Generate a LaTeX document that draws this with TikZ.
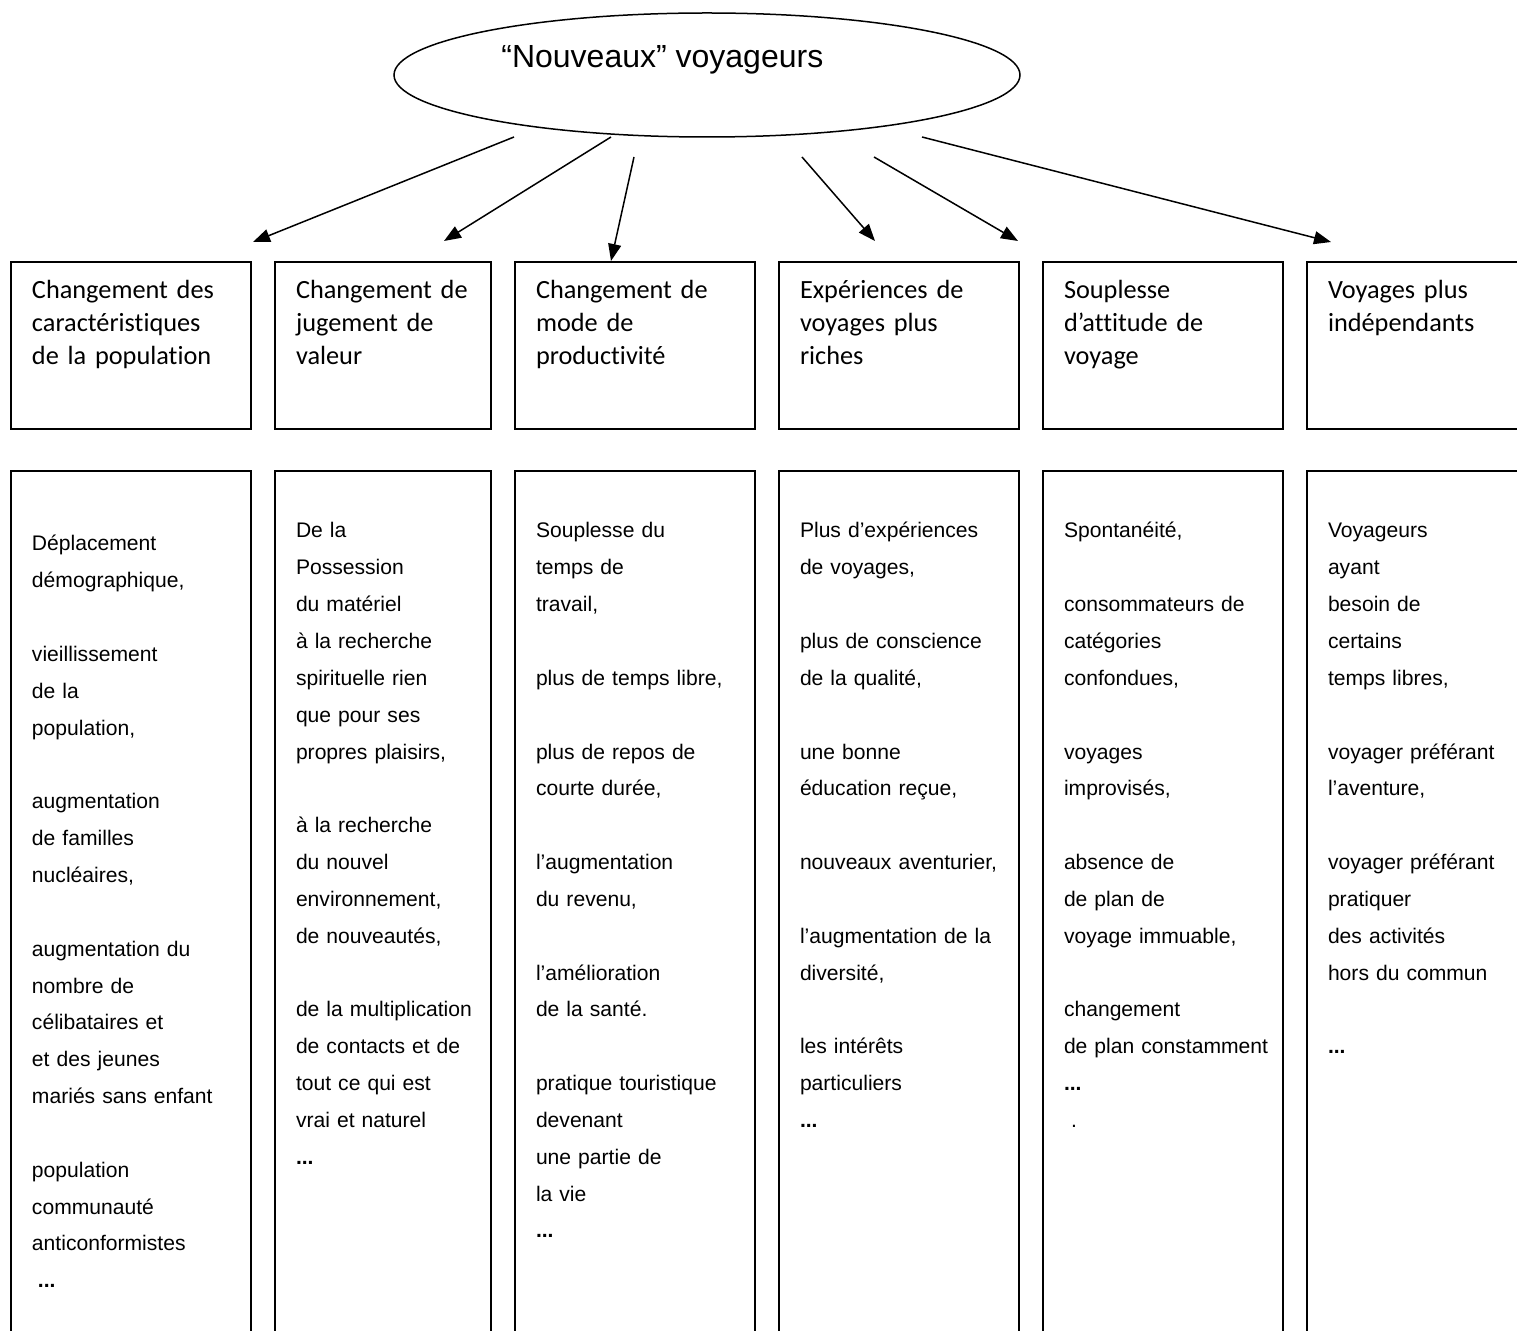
\documentclass[tikz,border=0pt]{standalone}
\usepackage{fontspec}
\setmainfont[Ligatures=NoCommon]{Liberation Sans}
\newfontfamily\hdrfont[Ligatures=NoCommon]{Carlito}
\usetikzlibrary{arrows.meta,shapes.geometric}
\newcommand{\el}{\mbox{}}
\newcommand{\edots}{\textbf{...}}
\begin{document}
\begin{tikzpicture}[x=0.5pt,y=-0.5pt,
  boxline/.style={draw=black, line width=1pt, inner sep=0pt, outer sep=0pt, anchor=north west, minimum height=83.25pt},
  colbox/.style={draw=black, line width=1pt, inner sep=0pt, outer sep=0pt, anchor=north west, minimum height=460pt},
  hdr/.style={anchor=north west, inner sep=0pt, outer sep=0pt, align=left, text width=110pt,
     font=\hdrfont\fontsize{13.15pt}{16.5pt}\selectfont},
  bodytxt/.style={anchor=north west, inner sep=0pt, outer sep=0pt, align=left, text width=110pt,
     font=\fontsize{10.55pt}{18.42pt}\selectfont},
  arr/.style={line width=0.75pt, -{Triangle[length=8.5pt,width=6.5pt]}},
]
\useasboundingbox (0,0) rectangle (1517,1331);
\clip (0,0) rectangle (1517,1331);

% central ellipse
\node[draw, ellipse, line width=0.75pt, inner sep=0pt, minimum width=313pt, minimum height=62pt] (top) at (707,75) {};
\node[anchor=base west, inner sep=0pt, font=\fontsize{16pt}{19pt}\selectfont] (toptxt) at (501,68) {“Nouveaux” voyageurs};

% header boxes
\node[boxline, minimum width=120.25pt] (h1) at (10.5,262.5) {};
\node[boxline, minimum width=108.25pt] (h2) at (274.5,262.5) {};
\node[boxline, minimum width=120pt] (h3) at (514.5,262.5) {};
\node[boxline, minimum width=120pt] (h4) at (778.5,262.5) {};
\node[boxline, minimum width=120.25pt] (h5) at (1042.5,262.5) {};
\node[boxline, minimum width=130pt] (h6) at (1307,262.5) {};

\node[hdr] (ht1) at (32,275.5) {\strut Changement des\\caractéristiques\\de la population};
\node[hdr] (ht2) at (296,275.5) {\strut Changement de\\jugement de\\valeur};
\node[hdr] (ht3) at (536,275.5) {\strut Changement de\\mode de\\productivité};
\node[hdr] (ht4) at (800,275.5) {\strut Expériences de\\voyages plus\\riches};
\node[hdr] (ht5) at (1064,275.5) {\strut Souplesse\\d’attitude de\\voyage};
\node[hdr] (ht6) at (1328,275.5) {\strut Voyages plus\\indépendants};

% column boxes
\node[colbox, minimum width=120.25pt] (c1) at (10.5,471) {};
\node[colbox, minimum width=108.25pt] (c2) at (274.5,471) {};
\node[colbox, minimum width=120pt] (c3) at (514.5,471) {};
\node[colbox, minimum width=120pt] (c4) at (778.5,471) {};
\node[colbox, minimum width=120.25pt] (c5) at (1042.5,471) {};
\node[colbox, minimum width=130pt] (c6) at (1307,471) {};

\node[bodytxt] (b1) at (32,525.2) {\strut Déplacement\\démographique,\\\el\\vieillissement\\de la\\population,\\\el\\augmentation\\de familles\\nucléaires,\\\el\\augmentation du\\nombre de\\célibataires et\\et des jeunes\\mariés sans enfant\\\el\\population\\communauté\\anticonformistes\\\hspace*{3pt}\edots};
\node[bodytxt] (b2) at (296,512.2) {\strut De la\\Possession\\du matériel\\à la recherche\\spirituelle rien\\que pour ses\\propres plaisirs,\\\el\\à la recherche\\du nouvel\\environnement,\\de nouveautés,\\\el\\de la multiplication\\de contacts et de\\tout ce qui est\\vrai et naturel\\\edots};
\node[bodytxt] (b3) at (536,512.2) {\strut Souplesse du\\temps de\\travail,\\\el\\plus de temps libre,\\\el\\plus de repos de\\courte durée,\\\el\\l’augmentation\\du revenu,\\\el\\l’amélioration\\de la santé.\\\el\\pratique touristique\\devenant\\une partie de\\la vie\\\edots};
\node[bodytxt] (b4) at (800,512.2) {\strut Plus d’expériences\\de voyages,\\\el\\plus de conscience\\de la qualité,\\\el\\une bonne\\éducation reçue,\\\el\\nouveaux aventurier,\\\el\\l’augmentation de la\\diversité,\\\el\\les intérêts\\particuliers\\\edots};
\node[bodytxt] (b5) at (1064,512.2) {\strut Spontanéité,\\\el\\consommateurs de\\catégories\\confondues,\\\el\\voyages\\improvisés,\\\el\\absence de\\de plan de\\voyage immuable,\\\el\\changement\\de plan constamment\\\edots\\\hspace*{3.5pt}.};
\node[bodytxt] (b6) at (1328,512.2) {\strut Voyageurs\\ayant\\besoin de\\certains\\temps libres,\\\el\\voyager préférant\\l’aventure,\\\el\\voyager préférant\\pratiquer\\des activités\\hors du commun\\\el\\\edots};

% arrows
\coordinate (a1s) at (514,137);  \coordinate (a1e) at (253,242);
\coordinate (a2s) at (611,137);  \coordinate (a2e) at (444,241);
\coordinate (a3s) at (634,157);  \coordinate (a3e) at (611,261);
\coordinate (a4s) at (802,157);  \coordinate (a4e) at (875,241);
\coordinate (a5s) at (874,157);  \coordinate (a5e) at (1018,241);
\coordinate (a6s) at (922,137);  \coordinate (a6e) at (1331,242);
\draw[arr] (a1s) -- (a1e);
\draw[arr] (a2s) -- (a2e);
\draw[arr] (a3s) -- (a3e);
\draw[arr] (a4s) -- (a4e);
\draw[arr] (a5s) -- (a5e);
\draw[arr] (a6s) -- (a6e);
\end{tikzpicture}
\end{document}
